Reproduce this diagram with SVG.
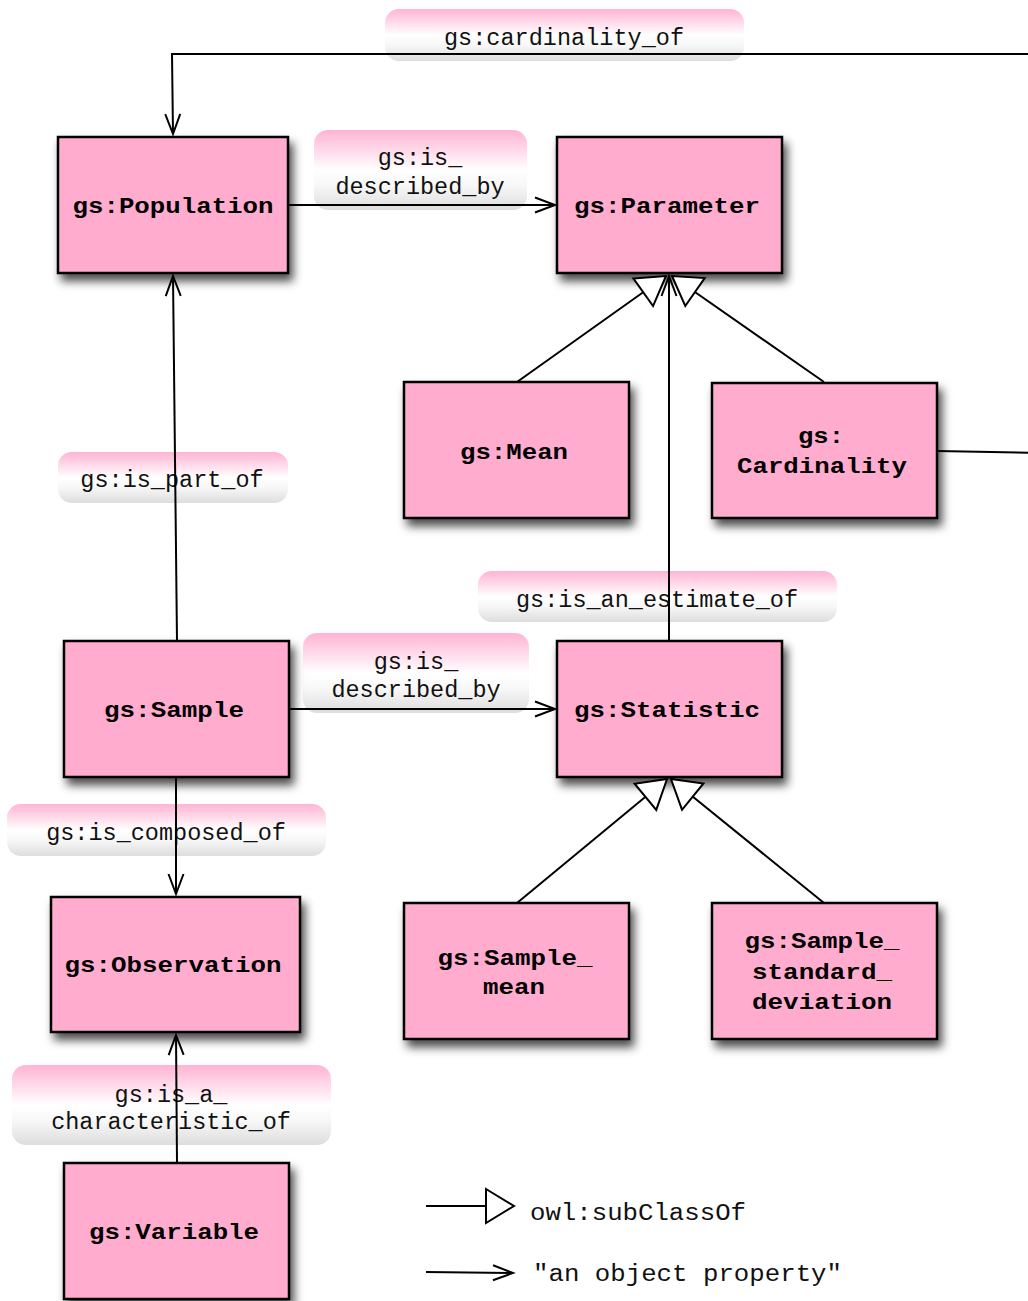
<svg xmlns="http://www.w3.org/2000/svg" width="1028" height="1301" viewBox="0 0 1028 1301">
<style>
.node rect{fill:#FFACCF;stroke:#000;stroke-width:2.5;filter:url(#shadow)}
.node text{font-family:"Liberation Mono","Courier New",monospace;font-weight:bold;font-size:22px;text-anchor:middle;fill:#000}
.lbl rect{fill:url(#lblgrad)}
.lbl text{font-family:"Liberation Mono","Courier New",monospace;font-size:23.5px;text-anchor:middle;fill:#111}
.edge{fill:none;stroke:#000;stroke-width:2}
.prop{marker-end:url(#arrow)}
.sub{marker-end:url(#tri)}
.legend{font-family:"Liberation Mono","Courier New",monospace;font-size:23px;fill:#111}
</style>
<defs>
<filter id="shadow" x="-20%" y="-20%" width="150%" height="150%">
<feDropShadow dx="4" dy="7" stdDeviation="5" flood-color="#000" flood-opacity="0.7"/>
</filter>
<linearGradient id="lblgrad" x1="0" y1="0" x2="0" y2="1">
<stop offset="0" stop-color="#FFB4D4"/>
<stop offset="0.5" stop-color="#FFFFFF"/>
<stop offset="0.7" stop-color="#F7F7F7"/>
<stop offset="1" stop-color="#DDDDDD"/>
</linearGradient>
<marker id="arrow" markerUnits="userSpaceOnUse" markerWidth="24" markerHeight="20" viewBox="0 0 24 20" refX="21" refY="10" orient="auto">
<path d="M1,2.5 L21,10 L1,17.5" fill="none" stroke="#000" stroke-width="2"/>
</marker>
<marker id="tri" markerUnits="userSpaceOnUse" markerWidth="34" markerHeight="40" viewBox="0 0 34 40" refX="30" refY="20" orient="auto">
<path d="M2,3 L30,20 L2,37 Z" fill="#fff" stroke="#000" stroke-width="2" stroke-linejoin="miter"/>
</marker>
</defs>
<rect width="1028" height="1301" fill="#fff"/>

<g id="edge-labels">
<g class="lbl" id="lbl-cardinality_of"><rect x="385" y="9" width="359" height="52" rx="14"/><text x="564" y="45" textLength="240">gs:cardinality_of</text></g>
<g class="lbl" id="lbl-is_described_by-1"><rect x="314" y="130" width="213" height="80" rx="14"/><text x="420" y="165">gs:is_</text><text x="420" y="194">described_by</text></g>
<g class="lbl" id="lbl-is_part_of"><rect x="58" y="452" width="230" height="51" rx="14"/><text x="172" y="487">gs:is_part_of</text></g>
<g class="lbl" id="lbl-is_an_estimate_of"><rect x="478" y="571" width="359" height="51" rx="14"/><text x="657" y="607">gs:is_an_estimate_of</text></g>
<g class="lbl" id="lbl-is_described_by-2"><rect x="303" y="633" width="226" height="80" rx="14"/><text x="416" y="669">gs:is_</text><text x="416" y="697">described_by</text></g>
<g class="lbl" id="lbl-is_composed_of"><rect x="7" y="804" width="319" height="52" rx="14"/><text x="166" y="840">gs:is_composed_of</text></g>
<g class="lbl" id="lbl-is_a_characteristic_of"><rect x="12" y="1065" width="319" height="80" rx="14"/><text x="171" y="1102">gs:is_a_</text><text x="171" y="1129">characteristic_of</text></g>
</g>

<g id="node-population" class="node"><rect x="58" y="137" width="230" height="136"/><text x="173" y="213" textLength="201" lengthAdjust="spacingAndGlyphs">gs:Population</text></g>
<g id="node-parameter" class="node"><rect x="557" y="137" width="225" height="136"/><text x="667" y="213" textLength="186" lengthAdjust="spacingAndGlyphs">gs:Parameter</text></g>
<g id="node-mean" class="node"><rect x="404" y="382" width="225" height="136"/><text x="514" y="459" textLength="108" lengthAdjust="spacingAndGlyphs">gs:Mean</text></g>
<g id="node-cardinality" class="node"><rect x="712" y="383" width="225" height="135"/><text x="821" y="443" textLength="46" lengthAdjust="spacingAndGlyphs">gs:</text><text x="822" y="473" textLength="170" lengthAdjust="spacingAndGlyphs">Cardinality</text></g>
<g id="node-sample" class="node"><rect x="64" y="641" width="225" height="136"/><text x="174" y="717" textLength="140" lengthAdjust="spacingAndGlyphs">gs:Sample</text></g>
<g id="node-statistic" class="node"><rect x="557" y="641" width="225" height="136"/><text x="667" y="717" textLength="186" lengthAdjust="spacingAndGlyphs">gs:Statistic</text></g>
<g id="node-observation" class="node"><rect x="51" y="897" width="249" height="135"/><text x="173" y="972" textLength="217" lengthAdjust="spacingAndGlyphs">gs:Observation</text></g>
<g id="node-sample_mean" class="node"><rect x="404" y="903" width="225" height="136"/><text x="515" y="965" textLength="155" lengthAdjust="spacingAndGlyphs">gs:Sample_</text><text x="514" y="994" textLength="62" lengthAdjust="spacingAndGlyphs">mean</text></g>
<g id="node-sample_standard_deviation" class="node"><rect x="712" y="903" width="225" height="136"/><text x="822" y="948" textLength="155" lengthAdjust="spacingAndGlyphs">gs:Sample_</text><text x="822" y="979" textLength="140" lengthAdjust="spacingAndGlyphs">standard_</text><text x="822" y="1009" textLength="140" lengthAdjust="spacingAndGlyphs">deviation</text></g>
<g id="node-variable" class="node"><rect x="64" y="1163" width="225" height="136"/><text x="174" y="1239" textLength="170" lengthAdjust="spacingAndGlyphs">gs:Variable</text></g>

<g id="connectors">
<path class="edge prop" d="M937,451 L1045,453 L1045,54 L172,54 L173,134"/>
<path class="edge prop" d="M288,205 L555,205"/>
<path class="edge prop" d="M177,641 L173,276"/>
<path class="edge prop" d="M289,709 L555,709"/>
<path class="edge prop" d="M669,641 L669,276"/>
<path class="edge prop" d="M176,777 L176,894"/>
<path class="edge prop" d="M177,1163 L176,1035"/>
<path class="edge sub" d="M517,382 L666,276"/>
<path class="edge sub" d="M824,382 L672,276"/>
<path class="edge sub" d="M517,903 L667,779"/>
<path class="edge sub" d="M824,903 L671,779"/>
</g>

<g id="legend">
<path class="edge sub" d="M426,1206 L514,1206"/>
<text class="legend" x="530" y="1220" textLength="216" lengthAdjust="spacingAndGlyphs">owl:subClassOf</text>
<path class="edge prop" d="M426,1272 L513,1273"/>
<text class="legend" x="533" y="1281" textLength="309" lengthAdjust="spacingAndGlyphs">"an object property"</text>
</g>
</svg>
